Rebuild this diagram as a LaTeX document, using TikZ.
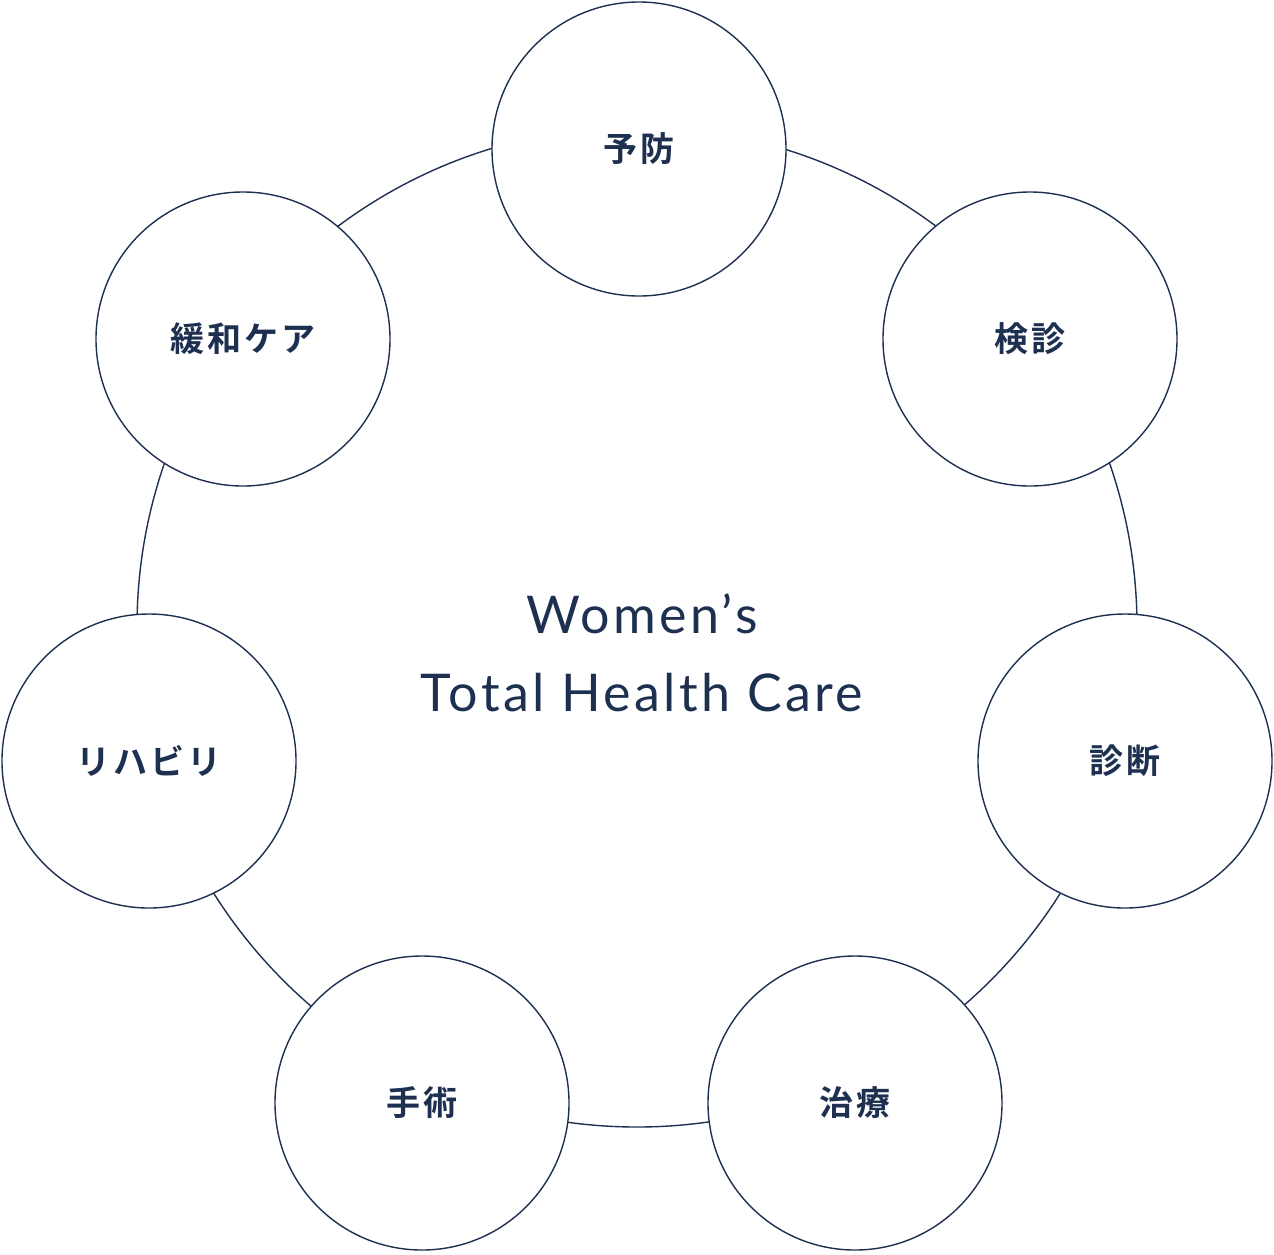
\documentclass[tikz,border=0pt]{standalone}
\usepackage{fontspec}
\setmainfont{Lato}[LetterSpace=6.5]
\newfontfamily\cjk{Noto Sans CJK JP}[BoldFont=* Bold,LetterSpace=8]
\definecolor{navy}{HTML}{1E3050}
\begin{document}
\begin{tikzpicture}[x=1pt,y=-1pt,
  stage/.style={circle,draw=navy,line width=1.4pt,fill=white,minimum size=294pt,inner sep=0pt,font=\cjk\bfseries\fontsize{34}{36}\selectfont,text=navy}]
\useasboundingbox (0,0) rectangle (1274,1254);
\node[circle,draw=navy,line width=1.4pt,minimum size=1000pt,inner sep=0pt] (ring) at (637,627) {};
\node[stage] (a) at (639,149) {予防};
\node[stage] (b) at (1030,339) {検診};
\node[stage] (c) at (1125,761) {診断};
\node[stage] (d) at (855,1103) {治療};
\node[stage] (e) at (422,1103) {手術};
\node[stage] (f) at (149,761) {リハビリ};
\node[stage] (g) at (243,339) {緩和ケア};
\node[text=navy,font=\fontsize{52}{78}\selectfont,align=center] (t) at (642,653) {Women’s\\Total Health Care};
\end{tikzpicture}
\end{document}
